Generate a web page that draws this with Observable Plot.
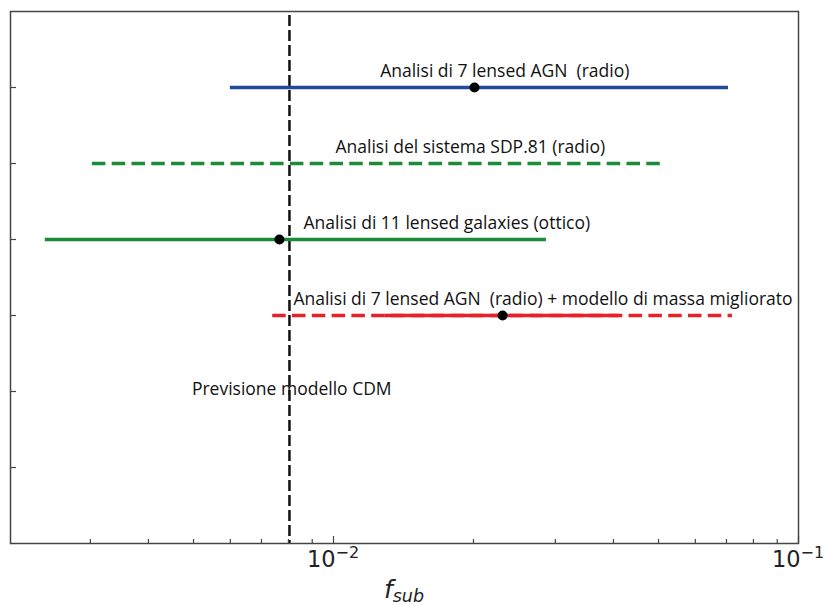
<!DOCTYPE html>
<html><head><meta charset="utf-8">
<script src="https://cdn.jsdelivr.net/npm/d3@7"></script>
<script src="https://cdn.jsdelivr.net/npm/@observablehq/plot@0.6"></script>
<style>body{margin:0;background:#fff;} #chart svg{display:block;}</style>
</head><body><div id="chart"></div>
<script>
// ---- data ----
const studies = [
  "Analisi di 7 lensed AGN  (radio)",
  "Analisi del sistema SDP.81 (radio)",
  "Analisi di 11 lensed galaxies (ottico)",
  "Analisi di 7 lensed AGN  (radio) + modello di massa migliorato"
];
const rows = [6, 5, 4, 3];
const lower = [0.0060, 0.00303, 0.00240, 0.0074];
const upper = [0.0707, 0.0510, 0.0287, 0.0721];
const best = [0.0201, null, 0.00765, 0.0231];
const coreLower = [null, null, null, 0.0129];
const coreUpper = [null, null, null, 0.041];
const dashedRange = [false, true, false, true];
const colors = ["#1f4a9c", "#1a8c37", "#1a8c37", "#e62129"];
const labelX = [0.0126, 0.0101, 0.00862, 0.0082];
const cdmValue = 0.00804;
const cdmLabel = "Previsione modello CDM";
const cdmLabelX = 0.00496;
const cdmLabelRow = 2;
const yTicks = [1, 2, 3, 4, 5, 6];
const xMajor = [0.01, 0.1];
const xMajorBase = ["10", "10"];
const xMajorExp = ["\u22122", "\u22121"];
const xMinor = [0.003, 0.004, 0.005, 0.006, 0.007, 0.008, 0.009,
                0.02, 0.03, 0.04, 0.05, 0.06, 0.07, 0.08, 0.09];
const xDomain = [0.00202, 0.1];
const yDomain = [0, 7];

const idx = d3.range(studies.length);
const W = 825, H = 605;
const mL = 10, mR = 27, mT = 11, mB = 62;
const frameW = W - mL - mR, frameH = H - mT - mB;

const chart = Plot.plot({
  width: W, height: H,
  marginLeft: mL, marginRight: mR, marginTop: mT, marginBottom: mB,
  style: {fontFamily: "Open Sans", fontSize: "17.5px", background: "#fff"},
  x: {type: "log", domain: xDomain, axis: null},
  y: {domain: yDomain, axis: null},
  marks: [
    // CDM prediction line
    Plot.ruleX([cdmValue], {x: d => d, stroke: "#111", strokeWidth: 2.5, strokeDasharray: "11,4", insetTop: 4}),
    // dashed full ranges
    Plot.ruleY(idx.filter(i => dashedRange[i]), {
      y: i => rows[i], x1: i => lower[i], x2: i => upper[i],
      stroke: i => colors[i], strokeWidth: 3.5, strokeDasharray: "13.5,6.3"
    }),
    // solid full ranges
    Plot.ruleY(idx.filter(i => !dashedRange[i]), {
      y: i => rows[i], x1: i => lower[i], x2: i => upper[i],
      stroke: i => colors[i], strokeWidth: 3.5
    }),
    // solid core of partially constrained range
    Plot.ruleY(idx.filter(i => coreLower[i] != null), {
      y: i => rows[i], x1: i => coreLower[i], x2: i => coreUpper[i],
      stroke: i => colors[i], strokeWidth: 3.5
    }),
    Plot.dot(idx.filter(i => best[i] != null), {
      x: i => best[i], y: i => rows[i], r: 5, fill: "#000", stroke: "none"
    }),
    // labels
    Plot.text(idx, {
      x: i => labelX[i], y: i => rows[i], text: i => studies[i],
      textAnchor: "start", dy: -16, fill: "#111", fontSize: 17.5
    }),
    Plot.text([cdmLabel], {
      x: () => cdmLabelX, y: () => cdmLabelRow, text: d => d,
      textAnchor: "start", dy: -2, fill: "#111", fontSize: 17.5
    }),
    // inward ticks
    Plot.tickY(yTicks, {y: d => d, stroke: "#444", strokeWidth: 1.2, insetRight: frameW - 6}),
    Plot.tickX(xMinor, {x: d => d, stroke: "#444", strokeWidth: 1.2, insetTop: frameH - 4}),
    Plot.tickX(xMajor, {x: d => d, stroke: "#444", strokeWidth: 1.2, insetTop: frameH - 7}),
    Plot.frame({stroke: "#444", strokeWidth: 1.5})
  ]
});

const sx = chart.scale("x");
const xr = sx.range;
const svg = d3.select(chart);

// major tick labels with superscript exponents
const xs = d3.scaleLog().domain(sx.domain).range(sx.range);
xMajor.forEach((v, i) => {
  const t = svg.append("text")
    .attr("x", xs(v))
    .attr("y", H - mB + 24)
    .attr("text-anchor", "middle")
    .attr("font-family", "DejaVu Sans")
    .attr("fill", "#222");
  t.append("tspan").attr("font-size", 22.5).text(xMajorBase[i]);
  t.append("tspan").attr("font-size", 16).attr("dy", -9).text(xMajorExp[i]);
});

// axis title f_sub, centred on the x range
const t = svg.append("text")
  .attr("x", (xr[0] + xr[1]) / 2)
  .attr("y", H - 7)
  .attr("text-anchor", "middle")
  .attr("font-family", "DejaVu Sans")
  .attr("font-style", "italic")
  .attr("fill", "#222");
t.append("tspan").attr("font-size", 25).text("f");
t.append("tspan").attr("font-size", 17.5).attr("dy", 4).text("sub");

document.getElementById("chart").appendChild(chart);
</script>
</body></html>
